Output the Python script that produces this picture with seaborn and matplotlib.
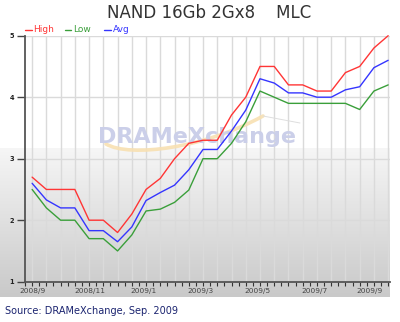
import numpy as np
import pandas as pd
import matplotlib
matplotlib.use("Agg")
import matplotlib.pyplot as plt
import seaborn as sns
from matplotlib.path import Path
from matplotlib.patches import PathPatch
from matplotlib.lines import Line2D
from matplotlib.colors import LinearSegmentedColormap

# ---- data ----
period = list(range(26))
high = [2.7, 2.5, 2.5, 2.5, 2.0, 2.0, 1.8, 2.1, 2.5, 2.68, 3.0, 3.25, 3.3, 3.3,
        3.71, 4.0, 4.5, 4.5, 4.2, 4.2, 4.1, 4.1, 4.4, 4.5, 4.8, 5.0]
low = [2.5, 2.2, 2.0, 2.0, 1.7, 1.7, 1.5, 1.76, 2.15, 2.18, 2.29, 2.49, 3.0, 3.0,
       3.25, 3.6, 4.1, 4.0, 3.9, 3.9, 3.9, 3.9, 3.9, 3.8, 4.1, 4.2]
avg = [2.6, 2.33, 2.2, 2.2, 1.83, 1.83, 1.65, 1.89, 2.32, 2.45, 2.57, 2.82, 3.15, 3.15,
       3.45, 3.79, 4.3, 4.23, 4.07, 4.07, 4.0, 4.0, 4.12, 4.17, 4.48, 4.6]
series_names = ["High", "Low", "Avg"]
series_colors = ["#ff3535", "#3a9f3a", "#3535ff"]
tick_labels = ["2008/9", "2008/11", "2009/1", "2009/3", "2009/5", "2009/7", "2009/9"]
tick_pos = [0, 4.05, 7.85, 11.8, 15.8, 19.8, 23.7]
y_ticks = [1, 2, 3, 4, 5]

df = pd.DataFrame({
    "period": period * 3,
    "price": high + low + avg,
    "series": [series_names[0]] * 26 + [series_names[1]] * 26 + [series_names[2]] * 26,
})

sns.set_style("white")
plt.rcParams["font.family"] = ["DejaVu Sans"]

W, H = 400, 322
fig = plt.figure(figsize=(W / 100, H / 100), dpi=100)
fig.patch.set_facecolor("white")

def fx(px):
    return px / W

def fy(py):
    return 1 - py / H

# gradient background panel
bg = fig.add_axes([0, fy(297), fx(390), (297 - 148) / H], zorder=0)
grad = np.linspace(0, 1, 256).reshape(-1, 1)
cmap = LinearSegmentedColormap.from_list("g", ["#f6f6f6", "#c9c9c9"])
bg.imshow(grad, aspect="auto", cmap=cmap, extent=[0, 1, 0, 1], origin="upper")
bg.axis("off")

ax = fig.add_axes([fx(25), fy(281.7), 365.3 / W, (281.7 - 35.7) / H], zorder=1)
ax.set_facecolor("none")

sns.lineplot(data=df, x="period", y="price", hue="series", hue_order=series_names,
             palette=series_colors, linewidth=1.0, legend=False, ax=ax, zorder=3)
for ln in ax.lines:
    ln.set_clip_on(False)

ax.set_xlim(-0.5, 25.15)
ax.set_ylim(1, 5)
ax.set_xlabel("")
ax.set_ylabel("")

# grid
ax.set_xticks(period)
ax.set_xticks(np.arange(-0.5, 25.01, 1.0), minor=True)
ax.set_xticklabels([])
ax.set_yticks(y_ticks)
ax.set_yticklabels([str(v) for v in y_ticks])
ax.grid(True, which="major", color="#dadada", linewidth=1.0, zorder=0)
ax.set_axisbelow(True)
ax.tick_params(axis="x", which="both", direction="out", length=3, width=0.8,
               color="#333333", bottom=True)
ax.tick_params(axis="y", direction="out", length=6, width=1.0, color="#444444",
               pad=2, labelsize=4.8, labelcolor="#222222", left=True)
for lab in ax.get_yticklabels():
    lab.set_fontweight("bold")

for lbl, pos in zip(tick_labels, tick_pos):
    ax.text(pos, -0.025, lbl, transform=ax.get_xaxis_transform(), ha="center", va="top",
            fontsize=5.3, color="#444444")

for s in ["top", "right"]:
    ax.spines[s].set_visible(False)
for s in ["left", "bottom"]:
    ax.spines[s].set_color("#555555")
    ax.spines[s].set_linewidth(1.3)

# watermark swoosh + text
verts = [(fx(106), fy(144)), (fx(130), fy(158)), (fx(205), fy(148)), (fx(263), fy(116))]
swoosh = PathPatch(Path(verts, [Path.MOVETO, Path.CURVE4, Path.CURVE4, Path.CURVE4]),
                   transform=fig.transFigure, fill=False, edgecolor="#f8e0b2",
                   linewidth=2.6, alpha=0.9, zorder=0.8, capstyle="round")
ax.add_patch(swoosh)
swoosh.set_clip_on(False)
tail = Line2D([fx(263), fx(300)], [fy(116), fy(123)], transform=fig.transFigure,
              color="#dedede", linewidth=0.7, zorder=0.8)
ax.add_line(tail)
tail.set_clip_on(False)
ax.text(fx(197), fy(143.3), "DRAMeXchange", transform=fig.transFigure, ha="center",
        va="baseline", fontsize=16, fontweight="bold", color="#cbcfe9", zorder=1)

# title
fig.text(fx(107), fy(13), "NAND 16Gb 2Gx8    MLC", ha="left", va="center",
         fontsize=12, color="#333333")

# legend
leg_x = [(25, 32, 33), (65, 71, 73), (104, 111, 113)]
for (x0, x1, tx), name, col in zip(leg_x, series_names, series_colors):
    fig.add_artist(Line2D([fx(x0), fx(x1)], [fy(29.5), fy(29.5)], color=col, linewidth=1.0))
    fig.text(fx(tx), fy(29.5), name, ha="left", va="center", fontsize=6.5, color=col)

# source
fig.text(fx(5), fy(310.5), "Source: DRAMeXchange, Sep. 2009", ha="left", va="center",
         fontsize=7, color="#1b2470")

fig.savefig("out.png", dpi=100)
